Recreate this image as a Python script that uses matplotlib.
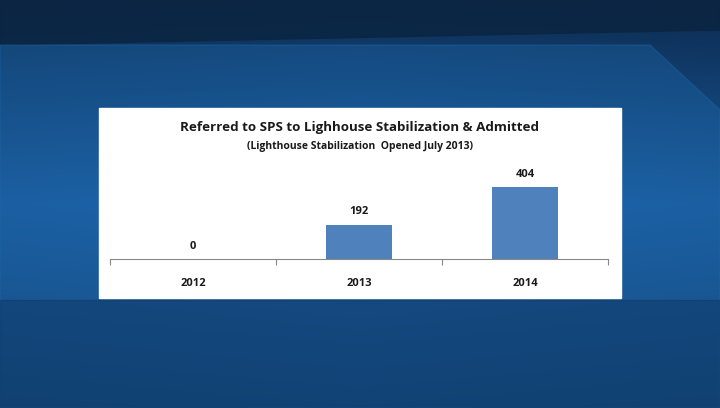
import matplotlib
matplotlib.use("Agg")
import matplotlib.pyplot as plt
import numpy as np
from matplotlib.patches import Polygon, Rectangle

categories = ["2012", "2013", "2014"]
values = [0, 192, 404]
title = "Referred to SPS to Lighhouse Stabilization & Admitted"
subtitle = "(Lighthouse Stabilization  Opened July 2013)"

plt.rcParams['font.family'] = ['Open Sans', 'DejaVu Sans']
fig = plt.figure(figsize=(7.2, 4.08), dpi=100)

# background
bg = fig.add_axes([0, 0, 1, 1])
bg.set_xlim(0, 720); bg.set_ylim(408, 0); bg.axis('off')
yy = np.linspace(0, 1, 200)[:, None]
xx = np.linspace(0, 1, 300)[None, :]
c_top = np.array([0.05, 0.18, 0.33]); c_mid = np.array([0.11, 0.38, 0.66]); c_bot = np.array([0.07, 0.25, 0.45])
t = yy * np.ones_like(xx)
img = np.where((t < 0.5)[..., None], c_top + (c_mid - c_top) * (t / 0.5)[..., None],
               c_mid + (c_bot - c_mid) * ((t - 0.5) / 0.5)[..., None])
img = img * (1 - 0.15 * np.abs(xx - 0.5)[..., None])
bg.imshow(img, extent=[0, 720, 408, 0], aspect='auto', zorder=0)
bg.add_patch(Polygon([[0, 0], [720, 0], [720, 30], [0, 45]], closed=True, color='#0b2440', alpha=0.8, zorder=1))
bg.add_patch(Polygon([[0, 45], [650, 45], [720, 110], [720, 408], [0, 408]], closed=True, color='#1f6cb0', alpha=0.35, zorder=1))
bg.add_patch(Polygon([[0, 300], [720, 300], [720, 408], [0, 408]], closed=True, color='#0e3560', alpha=0.45, zorder=1))
bg.add_patch(Rectangle((99, 108), 522, 190, color='white', zorder=2))
bg.text(360, 128, title, ha='center', va='center', fontsize=9.6, fontweight='bold', color='#1a1a1a', zorder=3)
bg.text(360, 146, subtitle, ha='center', va='center', fontsize=7.5, fontweight='bold', color='#1a1a1a', zorder=3)

ax = fig.add_axes([110/720, 1-259/408, 498/720, 109/408])
ax.patch.set_alpha(0)
x = np.arange(len(categories))
ax.bar(x, values, width=0.4, color='#4f81bd')
ax.set_xlim(-0.5, 2.5); ax.set_ylim(0, 614)
for xi, v in zip(x, values):
    ax.text(xi, v + 42, str(v), ha='center', va='bottom', fontsize=8, fontweight='bold', color='#1a1a1a')
for s in ['top', 'right', 'left']:
    ax.spines[s].set_visible(False)
ax.spines['bottom'].set_color('#888888')
ax.set_yticks([])
ax.set_xticks([-0.5, 0.5, 1.5, 2.5], minor=False)
ax.set_xticklabels([])
ax.tick_params(axis='x', length=4, color='#888888')
ax.set_xticks(x, minor=True)
ax.set_xticklabels(categories, minor=True)
ax.tick_params(axis='x', which='minor', length=0, pad=14, labelsize=8)
for lbl in ax.get_xticklabels(minor=True):
    lbl.set_fontweight('bold'); lbl.set_color('#1a1a1a')

fig.savefig("out.png", dpi=100)
